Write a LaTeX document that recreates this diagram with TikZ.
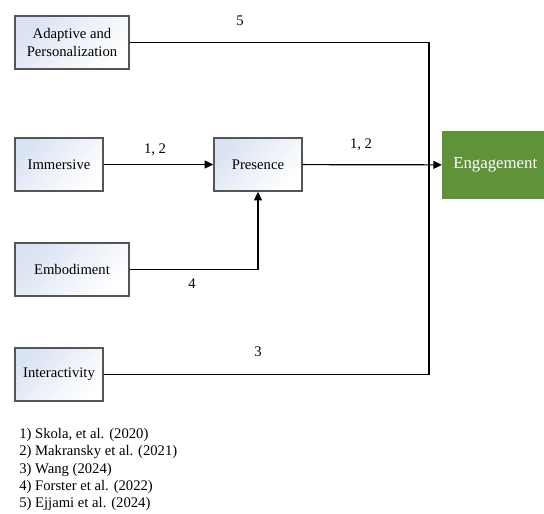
\documentclass[tikz,border=0pt]{standalone}
\usepackage{fontspec}
\setmainfont{Liberation Serif}
\usetikzlibrary{arrows.meta}

\definecolor{hijau}{RGB}{96,146,58}
\definecolor{biru}{RGB}{218,227,243}
\definecolor{garis}{RGB}{85,85,85}

\tikzset{
  konsep/.style={draw=garis, line width=1.1pt, top color=biru, bottom color=white,
    shading angle=45, minimum height=39.75pt, font=\rmfamily\fontsize{11}{14}\selectfont,
    align=center, inner sep=1pt},
  hasil/.style={fill=hijau, text=white, minimum height=51pt, minimum width=79.5pt,
    font=\rmfamily\fontsize{12.6}{15}\selectfont, inner sep=1pt},
  panah/.style={line width=0.9pt, -{Triangle[length=6.5pt,width=6pt]}},
  hubung/.style={line width=0.9pt},
  ket/.style={font=\rmfamily\fontsize{11}{13}\selectfont}
}

\begin{document}
\begin{tikzpicture}[x=0.75pt,y=-0.75pt]
            \useasboundingbox (0,0) rectangle (544,514);

            \node[konsep, minimum width=85.5pt] (adaptive) at (72,42.5) {Adaptive and\\Personalization};
            \node[konsep, minimum width=66pt] (immersive) at (59,164.5) {Immersive};
            \node[konsep, minimum width=66pt] (presence) at (258,164.5) {Presence};
            \node[konsep, minimum width=85.5pt] (embodiment) at (72,269.5) {Embodiment};
            \node[konsep, minimum width=66pt] (interactivity) at (59,374.5) {Interactivity};
            \node[hasil, anchor=west] (engagement) at (442,165) {Engagement};

            \coordinate (sambung) at (429,165);

            \draw[hubung] (adaptive.east) -| (sambung) |- (interactivity.east);
            \draw[panah] (immersive) -- (presence);
            \draw[panah] (embodiment.east) -| (presence.south);
            \draw[panah] (presence) -- (engagement);

            \node[ket] (l5) at (240,21) {5};
            \node[ket] (l12a) at (155,150) {1, 2};
            \node[ket] (l12b) at (361,145) {1, 2};
            \node[ket] (l4) at (192,284) {4};
            \node[ket] (l3) at (258,352) {3};

            \node[ket, anchor=north west, align=left, inner sep=0pt] (sumber) at (19,428)
              {1) Skola, et al. (2020)\\2) Makransky et al. (2021)\\3) Wang (2024)\\4) Forster et al. (2022)\\5) Ejjami et al. (2024)};
          \end{tikzpicture}
\end{document}
